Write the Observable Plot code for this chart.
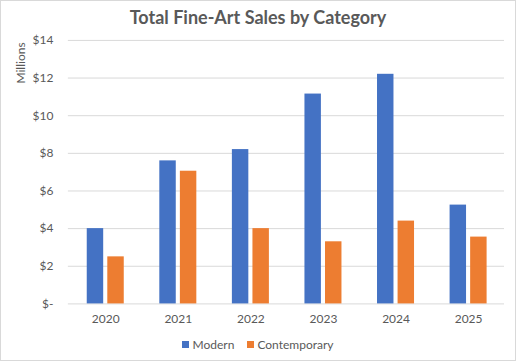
<!DOCTYPE html>
<html>
<head>
<meta charset="utf-8">
<script src="https://cdn.jsdelivr.net/npm/d3@7"></script>
<script src="https://cdn.jsdelivr.net/npm/@observablehq/plot@0.6"></script>
<style>
  html, body { margin: 0; padding: 0; background: #fff; }
  #chart { position: relative; width: 516px; height: 361px; box-sizing: border-box; border: 1px solid #d9d9d9; background: #fff; font-family: Lato, "Open Sans", sans-serif; color: #595959; overflow: hidden; }
  #title { position: absolute; left: 0; right: 0; top: 5px; text-align: center; font-size: 18px; font-weight: bold; color: #595959; }
  #ylabel { position: absolute; left: 19px; top: 62px; transform: translate(-50%, -50%) rotate(-90deg); font-size: 12px; white-space: nowrap; }
  .layer { position: absolute; left: -1px; top: -1px; }
  #legend { position: absolute; left: 0; right: 0; top: 336px; display: flex; justify-content: center; gap: 13px; font-size: 12px; }
  .item { display: flex; align-items: center; gap: 3px; }
  .sw { width: 7px; height: 7px; display: inline-block; }
</style>
</head>
<body>
<div id="chart">
  <div id="title">Total Fine-Art Sales by Category</div>
  <div id="ylabel">Millions</div>
  <div id="grid" class="layer"></div>
  <div id="bars" class="layer"></div>
  <div id="legend"></div>
</div>
<script>
const years = ["2020", "2021", "2022", "2023", "2024", "2025"];
const series = ["Modern", "Contemporary"];
const modern = [4.0, 7.6, 8.2, 11.15, 12.2, 5.25];
const contemporary = [2.5, 7.05, 4.0, 3.3, 4.4, 3.55];
const colors = ["#4472C4", "#ED7D31"];
const yTicks = [0, 2, 4, 6, 8, 10, 12, 14];

const data = years.flatMap((yr, i) => [
  {year: yr, series: "Modern", value: modern[i]},
  {year: yr, series: "Contemporary", value: contemporary[i]}
]);

const common = {
  width: 516,
  height: 335,
  marginTop: 40,
  marginBottom: 31,
  marginLeft: 68,
  marginRight: 11,
  style: {fontFamily: "Lato, 'Open Sans', sans-serif", fontSize: "12px", color: "#595959", background: "transparent"}
};

const gridPlot = Plot.plot({
  ...common,
  y: {domain: [0, 14], ticks: yTicks, tickFormat: d => d === 0 ? "$-" : "$" + d, tickSize: 0, tickPadding: 15, label: null},
  marks: [
    Plot.ruleY(yTicks, {stroke: "#d9d9d9", strokeWidth: 1})
  ]
});
document.getElementById("grid").appendChild(gridPlot);

const barPlot = Plot.plot({
  ...common,
  fx: {domain: years, paddingInner: 0.49, paddingOuter: 0.25, align: 0.52, round: false, axis: "bottom", label: null, tickSize: 0, tickPadding: 11},
  x: {domain: series, axis: null, paddingInner: 0.2, paddingOuter: 0, round: false},
  y: {domain: [0, 14], axis: null},
  color: {domain: series, range: colors},
  marks: [
    Plot.barY(data, {fx: "year", x: "series", y: "value", fill: "series"})
  ]
});
document.getElementById("bars").appendChild(barPlot);

const legend = document.getElementById("legend");
series.forEach((s, i) => {
  const item = document.createElement("div");
  item.className = "item";
  const sw = document.createElement("span");
  sw.className = "sw";
  sw.style.background = colors[i];
  const t = document.createElement("span");
  t.textContent = s;
  item.appendChild(sw);
  item.appendChild(t);
  legend.appendChild(item);
});
</script>
</body>
</html>
